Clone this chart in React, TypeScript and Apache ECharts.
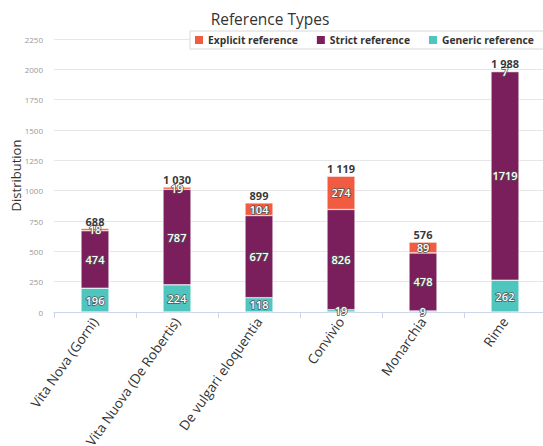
import React, { useEffect, useRef } from "react";
import * as echarts from "echarts";

const categories = [
  "Vita Nova (Gorni)",
  "Vita Nuova (De Robertis)",
  "De vulgari eloquentia",
  "Convivio",
  "Monarchia",
  "Rime",
];
const explicitRef = [18, 19, 104, 274, 89, 7];
const strictRef = [474, 787, 677, 826, 478, 1719];
const genericRef = [196, 224, 118, 19, 9, 262];
const yTicks = [0, 250, 500, 750, 1000, 1250, 1500, 1750, 2000, 2250];

const FONT = "'Open Sans', 'DejaVu Sans', sans-serif";

const fmtThousands = (v: number) =>
  String(v).replace(/\B(?=(\d{3})+(?!\d))/g, " ");

export default function App() {
  const ref = useRef<HTMLDivElement>(null);

  useEffect(() => {
    document.body.style.margin = "0";
    if (!ref.current) return;
    const chart = echarts.init(ref.current, undefined, { renderer: "svg" });
    const totals = categories.map(
      (_, i) => explicitRef[i] + strictRef[i] + genericRef[i]
    );
    const innerLabel = {
      show: true,
      position: "inside" as const,
      color: "#ffffff",
      fontSize: 11,
      fontWeight: 600,
      fontFamily: FONT,
      textBorderColor: "#555555",
      textBorderWidth: 1.5,
    };
    const barBase = {
      type: "bar" as const,
      stack: "refs",
      barWidth: 28,
      label: innerLabel,
    };
    chart.setOption({
      animation: false,
      textStyle: { fontFamily: FONT },
      title: {
        text: "Reference Types",
        left: 265,
        textAlign: "center",
        top: 6,
        textStyle: {
          fontSize: 15.5,
          fontWeight: 500,
          color: "#333333",
          fontFamily: FONT,
        },
      },
      legend: {
        data: ["Explicit reference", "Strict reference", "Generic reference"],
        left: 190,
        top: 31,
        width: 420,
        orient: "horizontal",
        icon: "rect",
        itemWidth: 10,
        itemHeight: 10,
        itemGap: 17,
        padding: [3, 20, 3, 3],
        borderColor: "#d8d8d8",
        borderWidth: 1,
        backgroundColor: "#ffffff",
        textStyle: {
          fontSize: 10.3,
          fontWeight: "bold",
          color: "#333333",
          fontFamily: FONT,
          padding: [0, 0, 0, -1],
        },
      },
      grid: {
        left: 54,
        width: 492,
        top: 39,
        bottom: 134,
        outerBoundsMode: "none",
        containLabel: false,
      },
      xAxis: {
        type: "category",
        data: categories,
        axisLine: { lineStyle: { color: "#ccd6eb" } },
        axisTick: { show: true, lineStyle: { color: "#ccd6eb" }, length: 6 },
        axisLabel: {
          rotate: 55,
          interval: 0,
          fontSize: 13.5,
          color: "#333333",
          fontFamily: FONT,
          margin: 7,
        },
      },
      yAxis: {
        type: "value",
        min: yTicks[0],
        max: yTicks[yTicks.length - 1],
        interval: 250,
        name: "Distribution",
        nameLocation: "middle",
        nameGap: 32,
        nameMoveOverlap: false,
        nameTextStyle: {
          fontSize: 13,
          fontWeight: 500,
          color: "#333333",
          fontFamily: FONT,
        },
        axisLabel: {
          fontSize: 8,
          color: "#999999",
          margin: 11,
          formatter: (v: number) => String(v),
        },
        splitLine: { lineStyle: { color: "#e6e6e6" } },
      },
      series: [
        {
          ...barBase,
          name: "Generic reference",
          data: genericRef,
          itemStyle: { color: "#4fc6bd", borderColor: "#ffffff", borderWidth: 0.5 },
        },
        {
          ...barBase,
          name: "Strict reference",
          data: strictRef,
          itemStyle: { color: "#7a1f5c", borderColor: "#ffffff", borderWidth: 0.5 },
        },
        {
          ...barBase,
          name: "Explicit reference",
          data: explicitRef,
          itemStyle: { color: "#f05b41", borderColor: "#ffffff", borderWidth: 0.5 },
        },
        {
          type: "scatter",
          name: "Total",
          data: totals,
          symbolSize: 0,
          silent: true,
          label: {
            show: true,
            position: "top",
            distance: 2,
            fontSize: 11,
            fontWeight: "bold",
            color: "#000000",
            fontFamily: FONT,
            formatter: (p: any) => fmtThousands(p.value),
          },
        },
      ],
    });
    return () => chart.dispose();
  }, []);

  return <div ref={ref} style={{ width: 543, height: 446 }} />;
}
